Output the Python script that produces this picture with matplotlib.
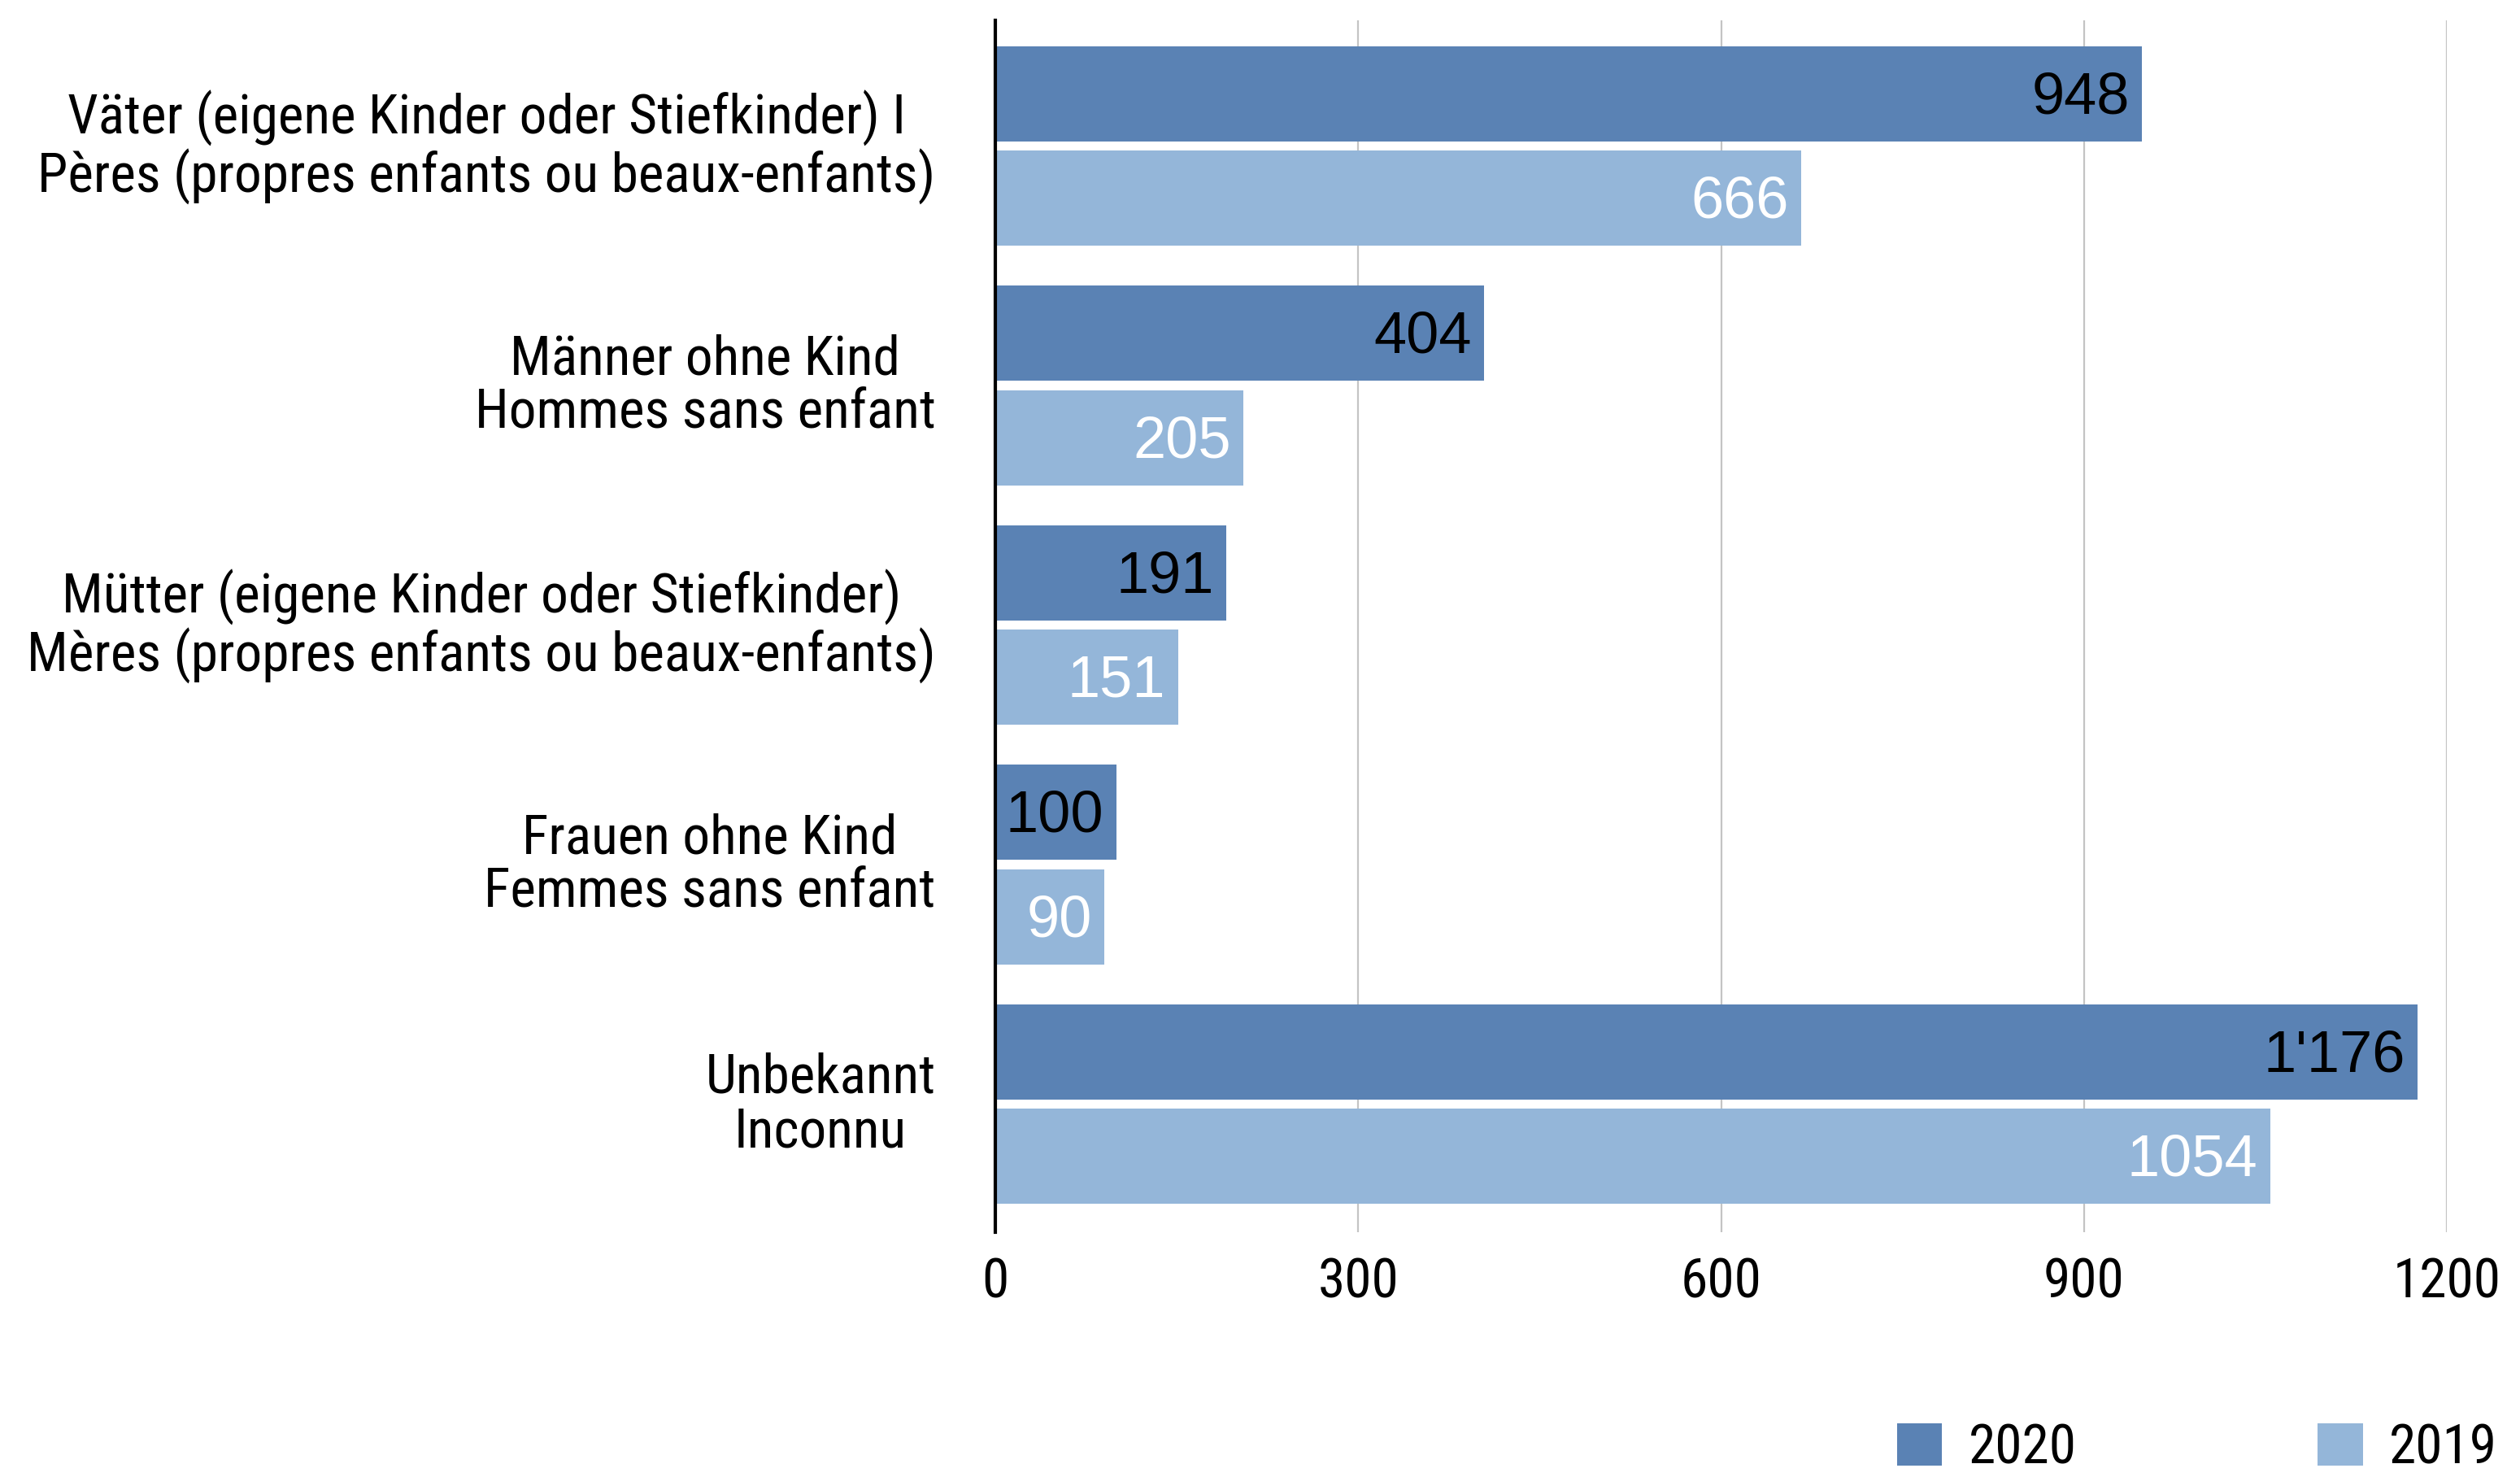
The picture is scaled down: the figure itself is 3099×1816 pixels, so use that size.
#!/usr/bin python3


# import required libraries
import numpy as np
import matplotlib
matplotlib.use("Agg")
import matplotlib.pyplot as plt
from matplotlib import font_manager
from matplotlib.transforms import ScaledTranslation


# chart data
categories = [
    "Väter (eigene Kinder oder Stiefkinder) I\nPères (propres enfants ou beaux-enfants)",
    "Männer ohne Kind\nHommes sans enfant",
    "Mütter (eigene Kinder oder Stiefkinder)\nMères (propres enfants ou beaux-enfants)",
    "Frauen ohne Kind\nFemmes sans enfant",
    "Unbekannt\nInconnu",
]
values_2020 = [948, 404, 191, 100, 1176]
values_2019 = [666, 205, 151, 90, 1054]
labels_2020 = ["948", "404", "191", "100", "1'176"]
labels_2019 = ["666", "205", "151", "90", "1054"]
series_names = ["2020", "2019"]
x_ticks = [0, 300, 600, 900, 1200]

REGULAR = ["Liberation Sans", "DejaVu Sans"]
NARROW_CANDIDATES = ["Liberation Sans Narrow", "Nimbus Sans Narrow", "Arial Narrow",
                     "Roboto Condensed", "Archivo Narrow", "PT Sans Narrow",
                     "Sofia Sans Semi Condensed"]
DARK = "#5a82b4"
LIGHT = "#94b6d9"


def pick_narrow(fig):
    names = {f.name for f in font_manager.fontManager.ttflist}
    fam = REGULAR
    for n in NARROW_CANDIDATES:
        if n in names:
            fam = [n] + REGULAR
            break
    # size the font so the longest label is as wide as in the original (~1105 px)
    t = fig.text(0, 0, "Pères (propres enfants ou beaux-enfants)", family=fam, fontsize=50)
    w = t.get_window_extent(renderer=fig.canvas.get_renderer()).width
    t.remove()
    size = min(53, 50 * 1105 / w)
    return fam, size


def main():
    fig = plt.figure(figsize=(30.99, 18.16), dpi=100)
    ax = fig.add_axes([0.395, 0.166, 0.576, 0.820])

    narrow, size = pick_narrow(fig)

    y = np.arange(len(categories))
    h = 0.397
    off = 0.218

    ax.barh(y - off, values_2020, height=h, color=DARK, label=series_names[0], zorder=2)
    ax.barh(y + off, values_2019, height=h, color=LIGHT, label=series_names[1], zorder=2)

    # value labels inside the bar ends
    for yy, v, lab in zip(y - off, values_2020, labels_2020):
        ax.annotate(lab, (v, yy), xytext=(-11, -4), textcoords="offset points",
                    ha="right", va="center", color="black", fontsize=52, family=REGULAR)
    for yy, v, lab in zip(y + off, values_2019, labels_2019):
        ax.annotate(lab, (v, yy), xytext=(-11, -4), textcoords="offset points",
                    ha="right", va="center", color="white", fontsize=52, family=REGULAR)

    ax.set_xlim(0, 1200)
    ax.set_ylim(4.533, -0.523)
    ax.set_xticks(x_ticks)
    ax.set_xticklabels([str(v) for v in x_ticks], family=narrow, fontsize=size)
    ax.set_yticks(y)
    ax.set_yticklabels(categories, family=narrow, fontsize=size,
                       multialignment="center", linespacing=1.05)
    ax.tick_params(axis="both", length=0)
    ax.tick_params(axis="x", pad=22)
    ax.tick_params(axis="y", pad=53)
    shift = ScaledTranslation(0, 5 / 72, fig.dpi_scale_trans)
    for lbl in ax.get_yticklabels():
        lbl.set_transform(lbl.get_transform() + shift)

    ax.grid(axis="x", color="#c4c4c4", linewidth=1.6, zorder=0)
    ax.set_axisbelow(True)
    for s in ["top", "right", "bottom"]:
        ax.spines[s].set_visible(False)
    ax.spines["left"].set_color("black")
    ax.spines["left"].set_linewidth(3)
    ax.spines["left"].set_zorder(3)

    hl = 40 / size
    fig.legend(loc="lower right", bbox_to_anchor=(0.991, 0.0015), ncol=2,
               frameon=False, prop={"family": narrow, "size": size},
               handlelength=hl, handleheight=hl, handletextpad=0.6 - 5.8 / size,
               columnspacing=(5.3 * 43 - 14.4) / size, borderpad=0, borderaxespad=0)

    fig.savefig("out.png", dpi=100)


if __name__ == '__main__':
    main()
